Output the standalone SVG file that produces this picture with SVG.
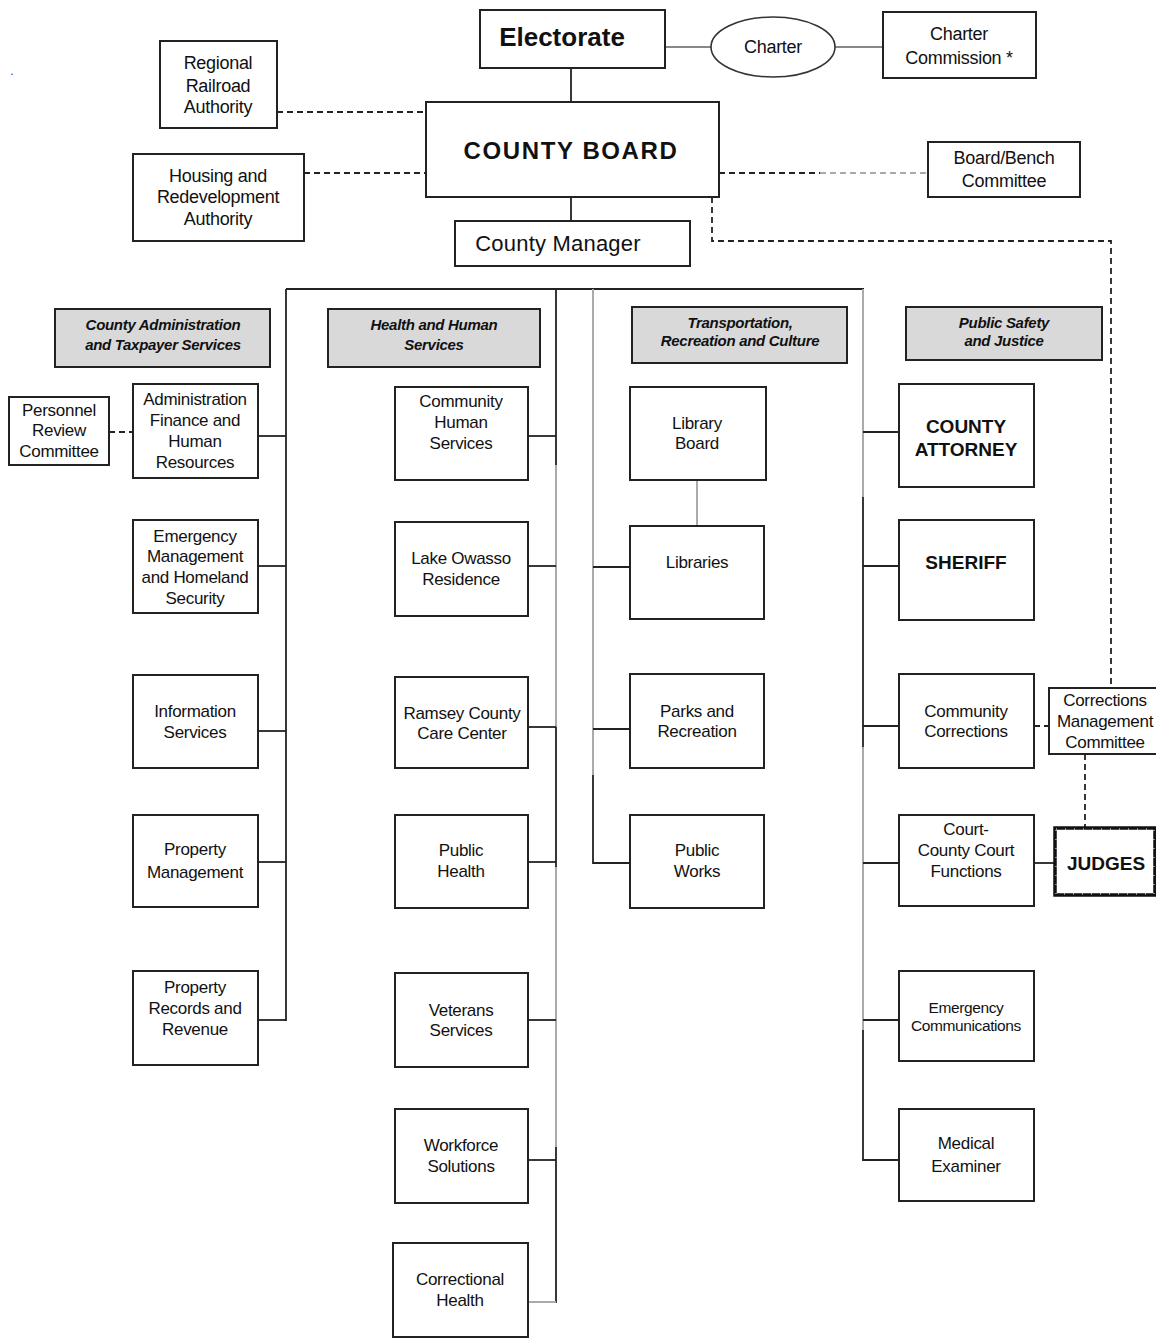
<svg xmlns="http://www.w3.org/2000/svg" width="1156" height="1338" viewBox="0 0 1156 1338">
<style>
.box{fill:#fff;stroke:#222;stroke-width:2}
.hdr{fill:#d9d9d9;stroke:#222;stroke-width:2}
text{font-family:"Liberation Sans",Arial,sans-serif;text-anchor:middle;fill:#111}
.t{font-size:17px;letter-spacing:-0.3px}
.t18{font-size:18px;letter-spacing:-0.3px}
.sm{font-size:15.5px;letter-spacing:-0.4px}
.h{font-size:15px;font-weight:bold;font-style:italic;letter-spacing:-0.3px}
.b{font-size:19px;font-weight:bold}
.ln{stroke:#222;stroke-width:1.8;fill:none}
.gl{stroke:#aaa;stroke-width:2;fill:none}
.gm{stroke:#888;stroke-width:1.8;fill:none}
.ds{stroke:#222;stroke-width:1.8;fill:none;stroke-dasharray:6 4}
.dg{stroke:#aaa;stroke-width:2;fill:none;stroke-dasharray:6 4}
</style>
<rect width="1156" height="1338" fill="#fff"/>
<text x="12" y="75" style="font-size:12px;fill:#33a">.</text>

<g id="connectors">
  <line class="ln" x1="571" y1="68" x2="571" y2="102"/>
  <line class="gm" x1="665" y1="47" x2="711" y2="47"/>
  <line class="gm" x1="835" y1="47" x2="883" y2="47"/>
  <line class="ds" x1="277" y1="112" x2="426" y2="112"/>
  <line class="ds" x1="304" y1="173" x2="426" y2="173"/>
  <line class="ds" x1="719" y1="173" x2="820" y2="173"/>
  <line class="dg" x1="820" y1="173" x2="928" y2="173"/>
  <polyline class="ds" points="712,197 712,241 1111,241 1111,688"/>
  <line class="ln" x1="571" y1="197" x2="571" y2="221"/>
  <line class="ln" x1="286" y1="289" x2="864" y2="289"/>
  <line class="ln" x1="286" y1="289" x2="286" y2="1021"/>
  <line class="ln" x1="258" y1="436" x2="286" y2="436"/>
  <line class="ds" x1="109" y1="432" x2="133" y2="432"/>
  <line class="ln" x1="258" y1="566" x2="286" y2="566"/>
  <line class="ln" x1="258" y1="731" x2="286" y2="731"/>
  <line class="ln" x1="258" y1="862" x2="286" y2="862"/>
  <line class="ln" x1="258" y1="1020" x2="286" y2="1020"/>
  <line class="ln" x1="556" y1="289" x2="556" y2="465"/>
  <line class="gl" x1="556" y1="465" x2="556" y2="727"/>
  <line class="ln" x1="556" y1="727" x2="556" y2="867"/>
  <line class="gl" x1="556" y1="867" x2="556" y2="1147"/>
  <line class="ln" x1="556" y1="1147" x2="556" y2="1303"/>
  <line class="ln" x1="528" y1="436" x2="556" y2="436"/>
  <line class="ln" x1="528" y1="566" x2="556" y2="566"/>
  <line class="ln" x1="528" y1="727" x2="556" y2="727"/>
  <line class="ln" x1="528" y1="862" x2="556" y2="862"/>
  <line class="ln" x1="528" y1="1020" x2="556" y2="1020"/>
  <line class="ln" x1="528" y1="1160" x2="556" y2="1160"/>
  <line class="gl" x1="528" y1="1302" x2="556" y2="1302"/>
  <line class="gl" x1="593" y1="289" x2="593" y2="775"/>
  <line class="ln" x1="593" y1="775" x2="593" y2="864"/>
  <line class="gl" x1="697" y1="480" x2="697" y2="526"/>
  <line class="ln" x1="593" y1="567" x2="630" y2="567"/>
  <line class="ln" x1="593" y1="729" x2="630" y2="729"/>
  <line class="ln" x1="593" y1="863" x2="630" y2="863"/>
  <line class="gl" x1="863" y1="289" x2="863" y2="497"/>
  <line class="ln" x1="863" y1="497" x2="863" y2="747"/>
  <line class="gl" x1="863" y1="747" x2="863" y2="1030"/>
  <line class="ln" x1="863" y1="1030" x2="863" y2="1161"/>
  <line class="ln" x1="863" y1="432" x2="899" y2="432"/>
  <line class="ln" x1="863" y1="566" x2="899" y2="566"/>
  <line class="ln" x1="863" y1="726" x2="899" y2="726"/>
  <line class="ds" x1="1034" y1="726" x2="1049" y2="726"/>
  <line class="ds" x1="1085" y1="754" x2="1085" y2="827"/>
  <line class="ln" x1="863" y1="863" x2="899" y2="863"/>
  <line class="ln" x1="1034" y1="863" x2="1054" y2="863"/>
  <line class="ln" x1="863" y1="1020" x2="899" y2="1020"/>
  <line class="ln" x1="863" y1="1160" x2="899" y2="1160"/>
</g>

<g id="electorate"><rect class="box" x="480" y="10" width="185" height="58"/><text x="562" y="46" style="font-size:26px;font-weight:bold">Electorate</text></g>
<g id="charter"><ellipse cx="773" cy="47" rx="62" ry="30" fill="#fff" stroke="#333" stroke-width="1.6"/><text class="t18" x="773" y="53">Charter</text></g>
<g id="charter-commission"><rect class="box" x="883" y="12" width="153" height="66"/><text class="t18" x="959" y="40">Charter</text><text class="t18" x="959" y="64">Commission *</text></g>
<g id="regional-railroad"><rect class="box" x="160" y="41" width="117" height="87"/><text class="t18" x="218" y="69">Regional</text><text class="t18" x="218" y="92">Railroad</text><text class="t18" x="218" y="113">Authority</text></g>
<g id="county-board"><rect class="box" x="426" y="102" width="293" height="95"/><text x="571" y="159" style="font-size:24px;font-weight:bold;letter-spacing:1.6px">COUNTY BOARD</text></g>
<g id="housing"><rect class="box" x="133" y="154" width="171" height="87"/><text class="t18" x="218" y="182">Housing and</text><text class="t18" x="218" y="203">Redevelopment</text><text class="t18" x="218" y="225">Authority</text></g>
<g id="board-bench"><rect class="box" x="928" y="142" width="152" height="55"/><text class="t18" x="1004" y="164">Board/Bench</text><text class="t18" x="1004" y="187">Committee</text></g>
<g id="county-manager"><rect class="box" x="455" y="221" width="235" height="45"/><text x="558" y="251" style="font-size:22px;letter-spacing:0.2px">County Manager</text></g>

<g id="hdr-admin"><rect class="hdr" x="55" y="309" width="215" height="58"/><text class="h" x="163" y="330">County Administration</text><text class="h" x="163" y="350">and Taxpayer Services</text></g>
<g id="hdr-health"><rect class="hdr" x="328" y="309" width="212" height="58"/><text class="h" x="434" y="330">Health and Human</text><text class="h" x="434" y="350">Services</text></g>
<g id="hdr-transport"><rect class="hdr" x="632" y="307" width="215" height="56"/><text class="h" x="740" y="328">Transportation,</text><text class="h" x="740" y="346">Recreation and Culture</text></g>
<g id="hdr-safety"><rect class="hdr" x="906" y="307" width="196" height="53"/><text class="h" x="1004" y="328">Public Safety</text><text class="h" x="1004" y="346">and Justice</text></g>

<g id="admin-finance"><rect class="box" x="133" y="384" width="125" height="94"/><text class="t" x="195" y="405">Administration</text><text class="t" x="195" y="426">Finance and</text><text class="t" x="195" y="447">Human</text><text class="t" x="195" y="468">Resources</text></g>
<g id="personnel-review"><rect class="box" x="9" y="397" width="100" height="68"/><text class="t" x="59" y="416">Personnel</text><text class="t" x="59" y="436">Review</text><text class="t" x="59" y="457">Committee</text></g>
<g id="emergency-mgmt"><rect class="box" x="133" y="520" width="125" height="93"/><text class="t" x="195" y="542">Emergency</text><text class="t" x="195" y="562">Management</text><text class="t" x="195" y="583">and Homeland</text><text class="t" x="195" y="604">Security</text></g>
<g id="information-services"><rect class="box" x="133" y="675" width="125" height="93"/><text class="t" x="195" y="717">Information</text><text class="t" x="195" y="738">Services</text></g>
<g id="property-management"><rect class="box" x="133" y="815" width="125" height="92"/><text class="t" x="195" y="855">Property</text><text class="t" x="195" y="878">Management</text></g>
<g id="property-records"><rect class="box" x="133" y="971" width="125" height="94"/><text class="t" x="195" y="993">Property</text><text class="t" x="195" y="1014">Records and</text><text class="t" x="195" y="1035">Revenue</text></g>

<g id="community-human"><rect class="box" x="395" y="387" width="133" height="93"/><text class="t" x="461" y="407">Community</text><text class="t" x="461" y="428">Human</text><text class="t" x="461" y="449">Services</text></g>
<g id="lake-owasso"><rect class="box" x="395" y="522" width="133" height="94"/><text class="t" x="461" y="564">Lake Owasso</text><text class="t" x="461" y="585">Residence</text></g>
<g id="care-center"><rect class="box" x="395" y="677" width="133" height="91"/><text class="t" x="462" y="719">Ramsey County</text><text class="t" x="462" y="739">Care Center</text></g>
<g id="public-health"><rect class="box" x="395" y="815" width="133" height="93"/><text class="t" x="461" y="856">Public</text><text class="t" x="461" y="877">Health</text></g>
<g id="veterans"><rect class="box" x="395" y="973" width="133" height="94"/><text class="t" x="461" y="1016">Veterans</text><text class="t" x="461" y="1036">Services</text></g>
<g id="workforce"><rect class="box" x="395" y="1109" width="133" height="94"/><text class="t" x="461" y="1151">Workforce</text><text class="t" x="461" y="1172">Solutions</text></g>
<g id="correctional-health"><rect class="box" x="393" y="1243" width="135" height="94"/><text class="t" x="460" y="1285">Correctional</text><text class="t" x="460" y="1306">Health</text></g>

<g id="library-board"><rect class="box" x="630" y="387" width="136" height="93"/><text class="t" x="697" y="429">Library</text><text class="t" x="697" y="449">Board</text></g>
<g id="libraries"><rect class="box" x="630" y="526" width="134" height="93"/><text class="t" x="697" y="568">Libraries</text></g>
<g id="parks"><rect class="box" x="630" y="674" width="134" height="94"/><text class="t" x="697" y="717">Parks and</text><text class="t" x="697" y="737">Recreation</text></g>
<g id="public-works"><rect class="box" x="630" y="815" width="134" height="93"/><text class="t" x="697" y="856">Public</text><text class="t" x="697" y="877">Works</text></g>

<g id="county-attorney"><rect class="box" x="899" y="384" width="135" height="103"/><text class="b" x="966" y="433">COUNTY</text><text class="b" x="966" y="456">ATTORNEY</text></g>
<g id="sheriff"><rect class="box" x="899" y="520" width="135" height="100"/><text class="b" x="966" y="569">SHERIFF</text></g>
<g id="community-corrections"><rect class="box" x="899" y="674" width="135" height="94"/><text class="t" x="966" y="717">Community</text><text class="t" x="966" y="737">Corrections</text></g>
<g id="corrections-mgmt"><rect class="box" x="1049" y="688" width="110" height="66"/><text class="t" x="1105" y="706">Corrections</text><text class="t" x="1105" y="727">Management</text><text class="t" x="1105" y="748">Committee</text></g>
<g id="court-functions"><rect class="box" x="899" y="815" width="135" height="91"/><text class="t" x="966" y="835">Court-</text><text class="t" x="966" y="856">County Court</text><text class="t" x="966" y="877">Functions</text></g>
<g id="judges"><rect x="1055" y="828" width="100" height="67" fill="#fff" stroke="#111" stroke-width="3.5"/><rect x="1056" y="829" width="98" height="65" fill="none" stroke="#fff" stroke-width="1" stroke-dasharray="1 8"/><text class="b" x="1106" y="870">JUDGES</text></g>
<g id="emergency-comm"><rect class="box" x="899" y="971" width="135" height="90"/><text class="sm" x="966" y="1013">Emergency</text><text class="sm" x="966" y="1031">Communications</text></g>
<g id="medical-examiner"><rect class="box" x="899" y="1109" width="135" height="92"/><text class="t" x="966" y="1149">Medical</text><text class="t" x="966" y="1172">Examiner</text></g>
</svg>
